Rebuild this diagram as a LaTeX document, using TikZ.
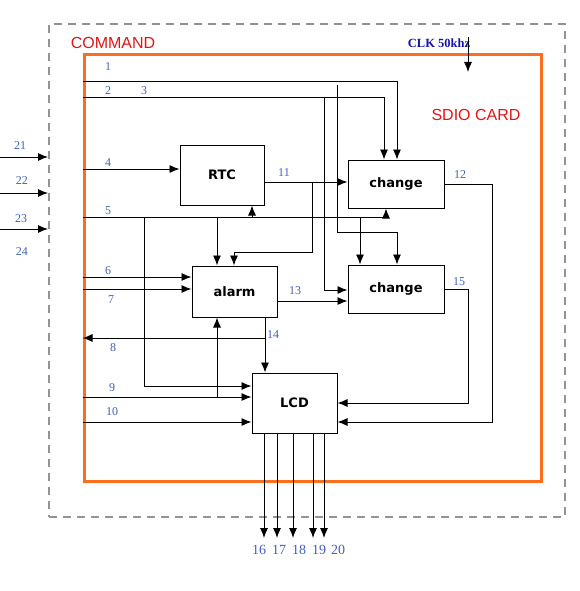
\documentclass[tikz,border=0pt]{standalone}
\usepackage{fontspec}
\setmainfont{Liberation Serif}
\newfontfamily\boxfont{DejaVu Sans}
\newfontfamily\tagfont{Liberation Sans}
\usetikzlibrary{arrows.meta}
\definecolor{numblue}{RGB}{64,96,192}
\definecolor{cardorange}{RGB}{250,110,30}
\definecolor{clkblue}{RGB}{20,20,170}
\definecolor{cmdred}{RGB}{228,20,20}

\begin{document}
\begin{tikzpicture}[x=1pt,y=-1pt,
		wire/.style={black,line width=0.9pt,-{Latex[length=10pt,width=8pt]}},
		blk/.style={draw=black,line width=1pt,inner sep=0pt,font=\boxfont\bfseries\fontsize{13}{15}\selectfont},
		num/.style={text=numblue,inner sep=0pt,font=\fontsize{12}{14}\selectfont},
		tag/.style={text=cmdred,inner sep=0pt,font=\tagfont\fontsize{16}{18}\selectfont}]
		\useasboundingbox (0,0) rectangle (579,591);
		\node[draw=gray!85,line width=2pt,dash pattern=on 8pt off 6pt,minimum width=516pt,minimum height=493pt,inner sep=0pt] (cmd) at (307,270.5) {};
		\node[draw=cardorange,line width=3pt,minimum width=457pt,minimum height=426pt,inner sep=0pt] (card) at (312.5,268) {};
		\node[tag] (cmdname) at (113,43) {COMMAND};
		\node[tag] (cardname) at (476,115) {SDIO CARD};
		\node[text=clkblue,inner sep=0pt,font=\bfseries\fontsize{12.5}{14}\selectfont] (clk) at (439,43) {CLK 50khz};
		%
		\node[blk,minimum width=84pt,minimum height=60pt] (rtc) at (222,175) {RTC};
		\node[blk,minimum width=96pt,minimum height=48pt] (chgA) at (396,184) {change};
		\node[blk,minimum width=85pt,minimum height=51pt] (alarm) at (234.5,291.5) {alarm};
		\node[blk,minimum width=96pt,minimum height=48pt] (chgB) at (396,289) {change};
		\node[blk,minimum width=85pt,minimum height=60pt] (lcd) at (294.5,403) {LCD};
		%
		\coordinate (clkin) at (468,37);
		\coordinate (clkout) at (468,72);
		\draw[wire] (clkin) -- (clkout);
		%
		\draw[wire] (0,157) -- (cmd.west |- 0,157);
		\draw[wire] (0,193) -- (cmd.west |- 0,193);
		\draw[wire] (0,229) -- (cmd.west |- 0,229);
		%
		\draw[wire] (card.west |- 0,81) -| ([xshift=1pt]chgA.north);
		\draw[wire] (card.west |- 0,97) -| ([xshift=-12pt]chgA.north);
		\draw[wire] (324,97) |- (chgB.west |- 0,290);
		\draw[wire] (337,85) -- (337,232) -| ([xshift=1pt]chgB.north);
		%
		\draw[wire] (card.west |- 0,169) -- (rtc.west |- 0,169);
		\draw[wire] (card.west |- 0,217) -| ([xshift=-10pt]chgA.south);
		\draw[wire] (252,217) -- (rtc.south -| 252,0);
		\draw[wire] (217,217) -- (alarm.north -| 217,0);
		\draw[wire] (360,217) -- (chgB.north -| 360,0);
		\draw[wire] (144,217) |- (lcd.west |- 0,386);
		%
		\draw[wire] (rtc.east |- 0,182) -- (chgA.west |- 0,182);
		\draw[wire] (312,182) -- (312,252) -| (alarm.north -| 234,0);
		%
		\draw[wire] (card.west |- 0,277) -- (alarm.west |- 0,277);
		\draw[wire] (card.west |- 0,289) -- (alarm.west |- 0,289);
		\draw[wire] (alarm.east |- 0,301) -- (chgB.west |- 0,301);
		\draw[wire] (alarm.south -| 265,0) -- (lcd.north -| 265,0);
		\draw[wire] (265,338) -- (card.west |- 0,338);
		%
		\draw[wire] (card.west |- 0,397) -- (lcd.west |- 0,397);
		\draw[wire] (217,397) -- (alarm.south -| 217,0);
		\draw[wire] (card.west |- 0,422) -- (lcd.west |- 0,422);
		%
		\draw[wire] (chgA.east) -| (492,422) -- (lcd.east |- 0,422);
		\draw[wire] (chgB.east) -| (468,403) -- (lcd.east |- 0,403);
		%
		\draw[wire] (lcd.south -| 264,0) -- (264,538);
		\draw[wire] (lcd.south -| 277,0) -- (277,538);
		\draw[wire] (lcd.south -| 293,0) -- (293,538);
		\draw[wire] (lcd.south -| 313,0) -- (313,538);
		\draw[wire] (lcd.south -| 324,0) -- (324,538);
		%
		\node[num] (n1) at (108,67) {1};
		\node[num] (n2) at (108,91) {2};
		\node[num] (n3) at (144,91) {3};
		\node[num] (n4) at (108,163) {4};
		\node[num] (n5) at (108,211) {5};
		\node[num] (n6) at (108,271) {6};
		\node[num] (n7) at (111,300) {7};
		\node[num] (n8) at (113,348) {8};
		\node[num] (n9) at (112,388) {9};
		\node[num] (n10) at (112,412) {10};
		\node[num] (n11) at (284,173) {11};
		\node[num] (n12) at (460,175) {12};
		\node[num] (n13) at (295,291) {13};
		\node[num] (n14) at (273,335) {14};
		\node[num] (n15) at (459,282) {15};
		%
		\node[num,font=\fontsize{14}{16}\selectfont] (n16) at (259,550) {16};
		\node[num,font=\fontsize{14}{16}\selectfont] (n17) at (279,550) {17};
		\node[num,font=\fontsize{14}{16}\selectfont] (n18) at (299,550) {18};
		\node[num,font=\fontsize{14}{16}\selectfont] (n19) at (319,550) {19};
		\node[num,font=\fontsize{14}{16}\selectfont] (n20) at (338,550) {20};
		%
		\node[num] (n21) at (20,146) {21};
		\node[num] (n22) at (22,181) {22};
		\node[num] (n23) at (21,219) {23};
		\node[num] (n24) at (22,252) {24};
	\end{tikzpicture}
\end{document}
